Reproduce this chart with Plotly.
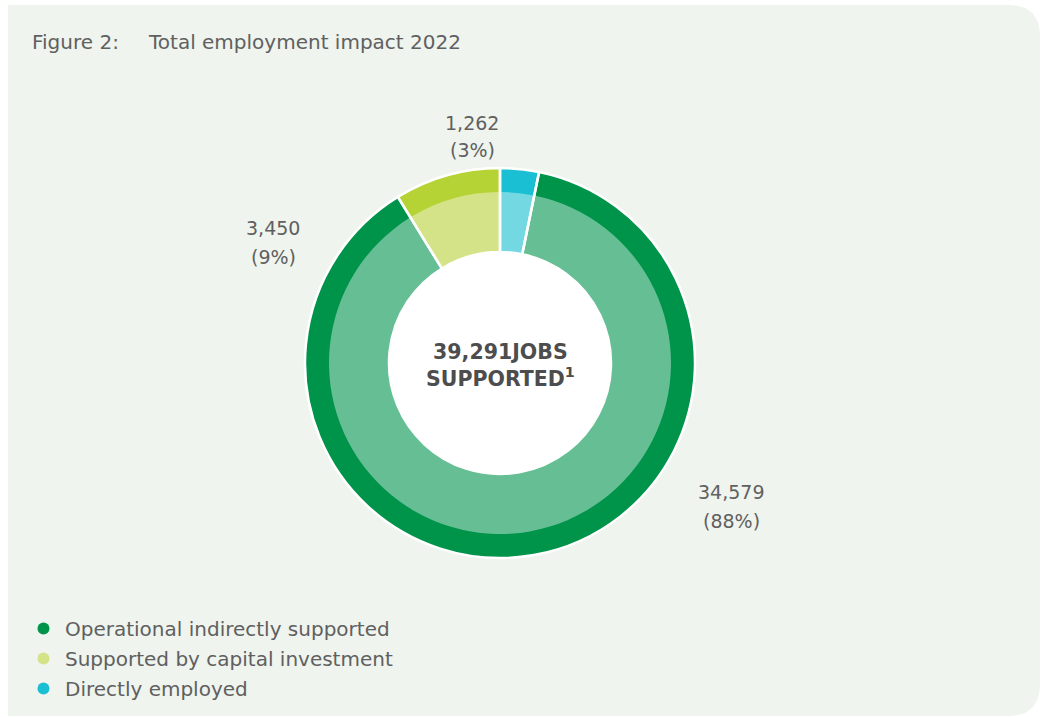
import plotly.graph_objects as go

# data
labels = ['Operational indirectly supported', 'Supported by capital investment', 'Directly employed']
jobs = [34579, 3450, 1262]
total_jobs = sum(jobs)

outer_colors = ['#00944a', '#b5d334', '#1bbfd3']
inner_colors = ['#66bf94', '#d4e388', '#74d8e3']
legend_colors = ['#00944a', '#d4e388', '#1bbfd3']

W, H = 1042, 717
FONT = 'DejaVu Sans'
GREY = '#606060'
CX, CY = 500, 363
R_OUT, R_MID, R_HOLE = 195, 171, 111


def px(x):
    return x / W


def py(y):
    return 1 - y / H


def pie_domain(r):
    return dict(x=[px(CX - r), px(CX + r)], y=[py(CY + r), py(CY - r)])


# directly employed slice sits at 12 o'clock, so rotate the start by its share
rot = 360 * jobs[2] / total_jobs

fig = go.Figure()

common = dict(labels=labels, values=jobs, sort=False, direction='clockwise',
              rotation=rot, textinfo='none', hoverinfo='label+value+percent',
              showlegend=False)

# dark outer ring (drawn as a thick ring, inner ring covers most of it)
fig.add_trace(go.Pie(**common, hole=R_HOLE / R_OUT, domain=pie_domain(R_OUT),
                     marker=dict(colors=outer_colors, line=dict(width=0))))
# light inner ring
fig.add_trace(go.Pie(**common, hole=R_HOLE / R_MID, domain=pie_domain(R_MID),
                     marker=dict(colors=inner_colors, line=dict(width=0))))
# white separators between slices
fig.add_trace(go.Pie(**common, hole=R_HOLE / R_OUT, domain=pie_domain(R_OUT),
                     marker=dict(colors=['rgba(0,0,0,0)'] * 3,
                                 line=dict(color='white', width=2.5))))

# legend entries
for name, col in zip(labels, legend_colors):
    fig.add_trace(go.Scatter(x=[None], y=[None], mode='markers', name=name,
                             legendgroup=name,
                             marker=dict(size=16, color=col)))

# value labels
label_pos = [(731, 492, 521), (273, 228, 257), (472, 123, 150)]
annotations = []
lab_font = dict(family=FONT, size=19, color=GREY)
for v, (lx, ly1, ly2) in zip(jobs, label_pos):
    annotations.append(dict(x=px(lx), y=py(ly1), text=f'{v:,}', font=lab_font))
    annotations.append(dict(x=px(lx), y=py(ly2), text=f'({v / total_jobs:.0%})', font=lab_font))

annotations.append(dict(
    x=px(CX), y=py(365),
    text=f'<b>{total_jobs:,}JOBS<br>SUPPORTED<sup>1</sup></b>',
    font=dict(family=FONT, size=20.5, color='#4d4d4d')))

annotations.append(dict(x=px(30), y=py(42), xanchor='left', text='Figure 2:',
                        font=dict(family=FONT, size=20, color=GREY)))
annotations.append(dict(x=px(146), y=py(42), xanchor='left',
                        text='Total employment impact 2022',
                        font=dict(family=FONT, size=20, color=GREY)))

for a in annotations:
    a.setdefault('xanchor', 'center')
    a.update(yanchor='middle', xref='paper', yref='paper', showarrow=False, align='center')

# panel background with rounded right corners
x0, y0, x1, y1, rc = 8, 5, 1040, 716, 32
path = (f'M {px(x0)} {py(y0)} L {px(x1 - rc)} {py(y0)} '
        f'Q {px(x1)} {py(y0)} {px(x1)} {py(y0 + rc)} '
        f'L {px(x1)} {py(y1 - rc)} Q {px(x1)} {py(y1)} {px(x1 - rc)} {py(y1)} '
        f'L {px(x0)} {py(y1)} Z')

shapes = [
    dict(type='path', path=path, xref='paper', yref='paper',
         fillcolor='#eff4ee', line=dict(width=0), layer='below'),
    dict(type='circle', xref='paper', yref='paper',
         x0=px(CX - R_HOLE), x1=px(CX + R_HOLE), y0=py(CY + R_HOLE), y1=py(CY - R_HOLE),
         fillcolor='white', line=dict(width=0), layer='above'),
]

fig.update_layout(
    width=W, height=H,
    margin=dict(l=0, r=0, t=0, b=0),
    paper_bgcolor='white',
    plot_bgcolor='rgba(0,0,0,0)',
    shapes=shapes,
    annotations=annotations,
    xaxis=dict(visible=False),
    yaxis=dict(visible=False),
    legend=dict(x=px(22), y=py(609), xanchor='left', yanchor='top',
                bgcolor='rgba(0,0,0,0)', font=dict(family=FONT, size=20, color=GREY),
                traceorder='grouped', tracegroupgap=1, itemsizing='constant',
                itemwidth=33),
)

fig.write_html('out.html', config={'displayModeBar': False},
               post_script="document.body.style.margin='0';")
